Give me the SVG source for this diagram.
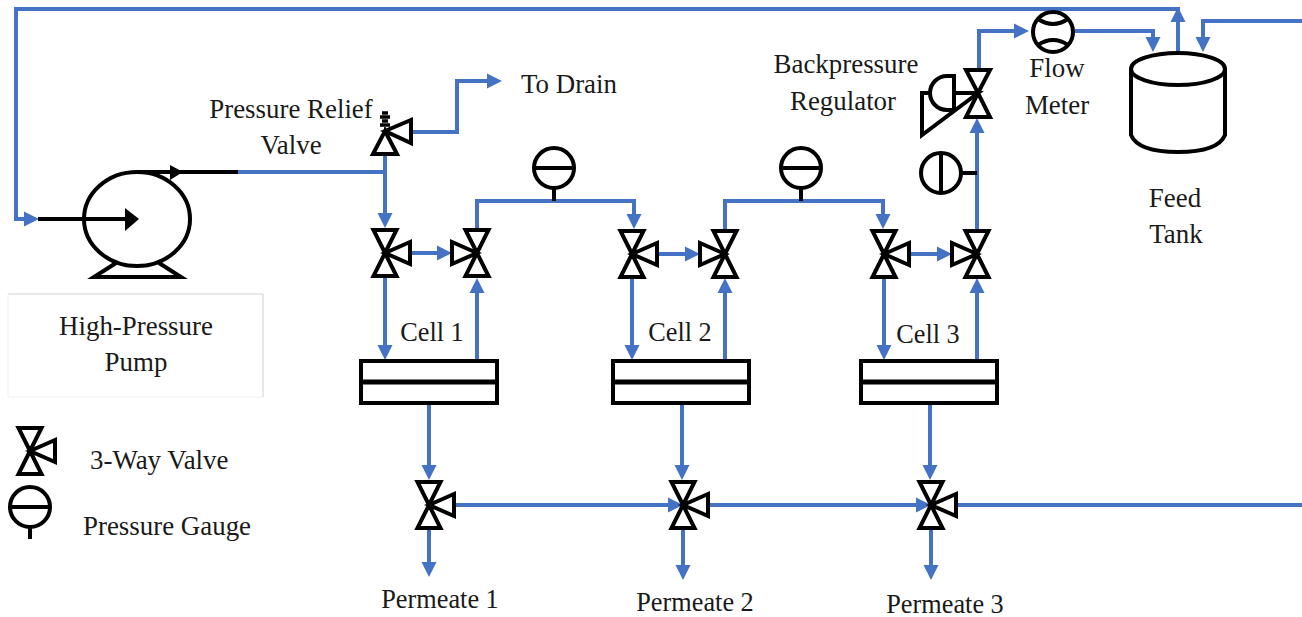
<svg xmlns="http://www.w3.org/2000/svg" width="1302" height="617" viewBox="0 0 1302 617">
<style>
.t{font-family:"Liberation Serif",serif;font-size:26.900px;fill:#1a1a1a}
.s{font-size:26.300px}
.m{text-anchor:middle}
.p{fill:none;stroke:#4472C4;stroke-width:4}
.k{fill:none;stroke:#000;stroke-width:4;stroke-linejoin:miter}
.h{fill:#4472C4}
.b{fill:#000}
</style>
<defs>
<g id="vr"><path class="k" d="M-11.500-23H11.500L0 0ZM-11.500 23H11.500L0 0ZM0 0 25-11V11Z"/></g>
<g id="vl"><path class="k" d="M-11.500-23H11.500L0 0ZM-11.500 23H11.500L0 0ZM0 0-25-11V11Z"/></g>
<g id="ga"><circle class="k" r="20"/><path class="k" d="M-20 0H20"/></g>
<g id="ad"><path class="h" d="M-7.500-15H7.500L0 0Z"/></g>
<g id="au"><path class="h" d="M-7.500 15H7.500L0 0Z"/></g>
<g id="ar"><path class="h" d="M-15-7.500V7.500L0 0Z"/></g>
<g id="cl"><rect class="k" x="-68" y="-21" width="136" height="42"/><path d="M-68 0H68" stroke="#000" stroke-width="5"/></g>
</defs>
<g id="connectors">
<path class="p" d="M1178 52V9H16V219H30"/>
<path class="p" d="M238 172H385"/>
<path class="p" d="M385 154V216"/>
<path class="p" d="M411 132H457V81H490"/>
<path class="p" d="M411 253H440"/>
<path class="p" d="M385 277V348"/>
<path class="p" d="M477 361V290"/>
<path class="p" d="M477 230V201H634V216"/>
<path class="p" d="M657 254H690"/>
<path class="p" d="M632 277V348"/>
<path class="p" d="M725 361V290"/>
<path class="p" d="M725 230V201H883V216"/>
<path class="p" d="M909 254H940"/>
<path class="p" d="M884 277V348"/>
<path class="p" d="M977 361V290"/>
<path class="p" d="M977 230V130"/>
<path class="p" d="M979 70V31H1018"/>
<path class="p" d="M1075 31H1153V42"/>
<path class="p" d="M1302 21H1203V42"/>
<path class="p" d="M429 403V470"/>
<path class="p" d="M682 403V470"/>
<path class="p" d="M930 403V470"/>
<path class="p" d="M454 505H672"/>
<path class="p" d="M708 505H920"/>
<path class="p" d="M956 505H1302"/>
<path class="p" d="M429 528V565"/>
<path class="p" d="M683 528V565"/>
<path class="p" d="M931 528V565"/>
<use href="#ar" x="39" y="219"/><use href="#ar" x="502" y="81"/>
<use href="#ad" x="385" y="228"/><use href="#ar" x="452" y="253"/><use href="#ad" x="385" y="360"/><use href="#au" x="477" y="278"/>
<use href="#ad" x="634" y="229"/><use href="#ar" x="700" y="254"/><use href="#ad" x="632" y="360"/><use href="#au" x="725" y="278"/>
<use href="#ad" x="883" y="229"/><use href="#ar" x="952" y="254"/><use href="#ad" x="884" y="360"/><use href="#au" x="977" y="118"/><use href="#au" x="977" y="278"/>
<use href="#ar" x="1029" y="31"/><use href="#ad" x="1153" y="52"/><use href="#au" x="1178" y="7"/><use href="#ad" x="1203" y="52"/>
<use href="#ad" x="429" y="480"/><use href="#ad" x="682" y="480"/><use href="#ad" x="930" y="480"/>
<use href="#ad" x="429" y="577"/><use href="#ad" x="683" y="580"/><use href="#ad" x="931" y="580"/>
<use href="#ar" x="683" y="505"/><use href="#ar" x="931" y="505"/>
</g>
<g id="pump">
<ellipse class="k" cx="137" cy="219" rx="53" ry="47"/>
<path class="k" d="M116 263 94 277H181L159 263"/>
<path class="k" d="M38 219H128M137 172H238"/>
<path class="b" d="M125 208V231L139 219ZM170 165V180L183 172Z"/>
</g>
<g id="pump-label">
<path d="M8 294H263V397" fill="none" stroke="#d0d0d0"/><path d="M8 294V397H263" fill="none" stroke="#f0f0f0"/>
<text class="t m" x="136" y="335">High-Pressure</text><text class="t m" x="136" y="371">Pump</text>
</g>
<g id="relief-valve">
<path class="k" d="M373 154H397L385 131ZM385 131 411 120V143Z"/>
<path d="M382 113H388M380 117H390M382 121H388M380 125H390M384 129H386" stroke="#000" stroke-width="3.500"/>
<text class="t m" x="291" y="118">Pressure Relief</text><text class="t m" x="291" y="154">Valve</text>
</g>
<g id="drain"><text class="t" x="521" y="93">To Drain</text></g>
<g id="v1"><use href="#vr" x="385" y="253"/></g>
<g id="v2"><use href="#vl" x="477" y="253"/></g>
<g id="v3"><use href="#vr" x="632" y="254"/></g>
<g id="v4"><use href="#vl" x="725" y="254"/></g>
<g id="v5"><use href="#vr" x="884" y="254"/></g>
<g id="v6"><use href="#vl" x="977" y="254"/></g>
<g id="g1"><use href="#ga" x="554" y="168"/><path class="k" d="M554 188V201"/></g>
<g id="g2"><use href="#ga" x="801" y="168"/><path class="k" d="M801 188V201"/></g>
<g id="g3"><circle class="k" cx="941" cy="173" r="20"/><path class="k" d="M941 153V193M961 173H977"/></g>
<g id="regulator">
<path class="k" d="M966 70H990L978 93ZM966 117H990L978 93Z"/>
<path class="k" d="M931 93H922V135L978 93H954"/>
<path class="k" d="M954 76H947A17 17 0 0 0 947 110H954Z"/>
<text class="t m" x="846" y="73">Backpressure</text><text class="t m" x="843" y="110">Regulator</text>
</g>
<g id="flow-meter">
<circle class="k" cx="1053" cy="32" r="20"/>
<path class="k" d="M1038 19Q1053 29 1068 19M1038 45Q1053 35 1068 45"/>
<text class="t m" x="1057" y="77">Flow</text><text class="t m" x="1057" y="114">Meter</text>
</g>
<g id="tank">
<ellipse class="k" cx="1178" cy="69" rx="47" ry="16"/>
<path class="k" d="M1131 69V135Q1138 152 1178 152T1225 135V69"/>
<text class="t m" x="1175" y="207">Feed</text><text class="t m" x="1176" y="243">Tank</text>
</g>
<g id="cell1"><use href="#cl" x="429" y="382"/><text class="t s m" x="432" y="341">Cell 1</text></g>
<g id="cell2"><use href="#cl" x="681" y="382"/><text class="t s m" x="680" y="341">Cell 2</text></g>
<g id="cell3"><use href="#cl" x="929" y="382"/><text class="t s m" x="928" y="343">Cell 3</text></g>
<g id="pv1"><use href="#vr" x="429" y="505"/><text class="t s m" x="440" y="608">Permeate 1</text></g>
<g id="pv2"><use href="#vr" x="683" y="505"/><text class="t s m" x="695" y="611">Permeate 2</text></g>
<g id="pv3"><use href="#vr" x="931" y="505"/><text class="t s m" x="945" y="613">Permeate 3</text></g>
<g id="legend">
<use href="#vr" x="30" y="451"/><text class="t" x="90" y="469">3-Way Valve</text>
<circle class="k" cx="30" cy="507" r="20"/><path class="k" d="M10 507H50M30 527V539"/><text class="t" x="83" y="535">Pressure Gauge</text>
</g>
</svg>
